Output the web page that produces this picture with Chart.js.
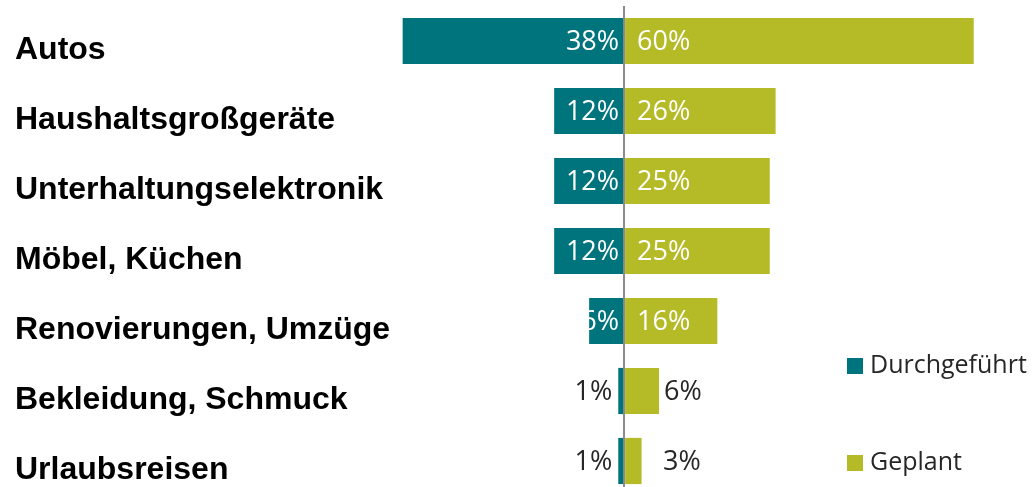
<!DOCTYPE html>
<html lang="de">
<head>
  <meta charset="UTF-8" />
  <title>Durchgeführt / Geplant</title>
  <script src="https://cdn.jsdelivr.net/npm/chart.js"></script>
  <style>
    body {
      margin: 0;
      background: #fff;
      overflow: hidden;
    }
    #wrap {
      width: 1035px;
      height: 496px;
      position: relative;
    }
  </style>
</head>
<body>
  <div id="wrap">
    <canvas id="chart"></canvas>
  </div>

  <script>
    const categories = ['Autos', 'Haushaltsgroßgeräte', 'Unterhaltungselektronik', 'Möbel, Küchen',
      'Renovierungen, Umzüge', 'Bekleidung, Schmuck', 'Urlaubsreisen'];
    const durchgefuehrt = [38, 12, 12, 12, 6, 1, 1];
    const geplant = [60, 26, 25, 25, 16, 6, 3];

    const TEAL = '#00747c';
    const OLIVE = '#b5ba27';
    const DARK = '#262626';
    const labelFont = '27px "Open Sans"';

    // Prozentwerte an die Balken schreiben
    const barLabels = {
      id: 'barLabels',
      afterDatasetsDraw(chart) {
        const ctx = chart.ctx;
        ctx.save();
        ctx.font = labelFont;
        ctx.textBaseline = 'middle';
        chart.data.datasets.forEach((ds, i) => {
          const meta = chart.getDatasetMeta(i);
          meta.data.forEach((bar, j) => {
            const v = ds.data[j];
            const txt = Math.abs(v) + '%';
            const w = Math.abs(bar.x - bar.base);
            const y = bar.y + 1;
            if (v < 0) {
              ctx.textAlign = 'right';
              if (w >= 30) {
                ctx.fillStyle = '#fff';
                ctx.fillText(txt, bar.base - 4, y);
              } else {
                ctx.fillStyle = DARK;
                ctx.fillText(txt, bar.x - 6, y);
              }
            } else {
              ctx.textAlign = 'left';
              if (w >= 60) {
                ctx.fillStyle = '#fff';
                ctx.fillText(txt, bar.base + 12, y);
              } else {
                ctx.fillStyle = DARK;
                ctx.fillText(txt, Math.max(bar.x + 5, bar.base + 38), y);
              }
            }
          });
        });
        ctx.restore();
      }
    };

    // Legende unten rechts
    const sideLegend = {
      id: 'sideLegend',
      afterDraw(chart) {
        const ctx = chart.ctx;
        const rows = [366, 463];
        ctx.save();
        ctx.font = '25px "Open Sans"';
        ctx.textBaseline = 'middle';
        ctx.textAlign = 'left';
        chart.data.datasets.forEach((ds, i) => {
          ctx.fillStyle = ds.backgroundColor;
          ctx.fillRect(847, rows[i] - 8, 16, 16);
          ctx.fillStyle = DARK;
          ctx.fillText(ds.label, 870, rows[i]);
        });
        ctx.restore();
      }
    };

    const chart = new Chart(document.getElementById('chart'), {
      type: 'bar',
      data: {
        labels: categories,
        datasets: [
          {
            label: 'Durchgeführt',
            data: durchgefuehrt.map(v => -v),
            backgroundColor: TEAL
          },
          {
            label: 'Geplant',
            data: geplant,
            backgroundColor: OLIVE
          }
        ]
      },
      options: {
        indexAxis: 'y',
        responsive: true,
        maintainAspectRatio: false,
        animation: false,
        categoryPercentage: 0.66,
        barPercentage: 1,
        layout: { padding: { left: 15, right: 3, top: 6, bottom: 0 } },
        plugins: {
          legend: { display: false },
          tooltip: { enabled: false }
        },
        scales: {
          x: {
            stacked: true,
            min: -40,
            max: 70,
            z: 1,
            ticks: { display: false, stepSize: 10 },
            border: { display: false },
            grid: {
              drawTicks: false,
              lineWidth: 2,
              color: c => c.tick && c.tick.value === 0 ? '#8c8c8c' : 'rgba(0,0,0,0)'
            }
          },
          y: {
            stacked: true,
            grid: { display: false },
            border: { display: false },
            afterFit: scale => {
              scale.width = 376;
              scale.paddingTop = 0;
              scale.paddingBottom = 0;
            },
            ticks: {
              crossAlign: 'far',
              labelOffset: 9,
              color: '#000',
              font: { family: '"Liberation Sans", Arial, sans-serif', size: 32, weight: 'bold' }
            }
          }
        }
      },
      plugins: [barLabels, sideLegend]
    });
  </script>
</body>
</html>
